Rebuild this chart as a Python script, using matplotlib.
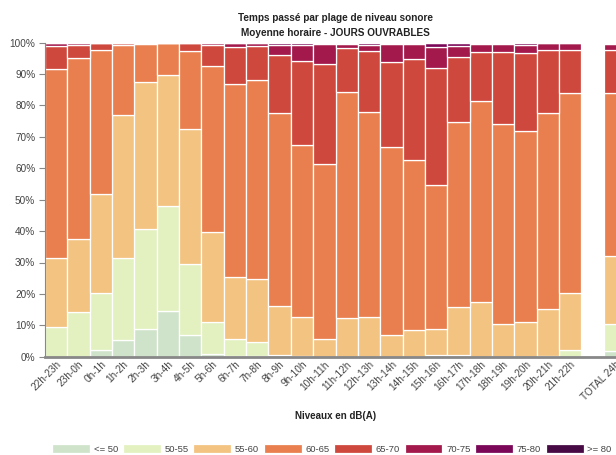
import numpy as np
import matplotlib
matplotlib.use("Agg")
import matplotlib.pyplot as plt
import matplotlib.transforms as mtransforms

plt.rcParams['font.family'] = ['Liberation Sans', 'DejaVu Sans']

categories = ["22h-23h", "23h-0h", "0h-1h", "1h-2h", "2h-3h", "3h-4h", "4h-5h", "5h-6h",
              "6h-7h", "7h-8h", "8h-9h", "9h-10h", "10h-11h", "11h-12h", "12h-13h", "13h-14h",
              "14h-15h", "15h-16h", "16h-17h", "17h-18h", "18h-19h", "19h-20h", "20h-21h",
              "21h-22h", "", "TOTAL 24h"]

levels = ["<= 50", "50-55", "55-60", "60-65", "65-70", "70-75", "75-80", ">= 80"]
colors = ["#cfe3cb", "#e3f1c1", "#f3c381", "#e97f4e", "#cf483d", "#a3194b", "#7a0757", "#470a45"]

le50 = [0, 0, 2.0, 5.3, 8.9, 14.6, 7.0, 1.0, 0.3, 0.2, 0, 0, 0, 0, 0, 0,
        0, 0, 0, 0, 0, 0, 0, 0, 0, 1.8]
l50_55 = [9.3, 14.3, 18.2, 26.2, 31.8, 33.5, 22.5, 10.0, 5.4, 4.5, 0.5, 0.1, 0, 0, 0, 0,
          0, 0.5, 0.6, 0, 0, 0, 0.3, 2.1, 0, 8.5]
l55_60 = [22.2, 23.1, 31.5, 45.6, 46.9, 41.7, 43.0, 28.6, 19.8, 20.2, 15.5, 12.4, 5.5, 12.3, 12.6, 6.9,
          8.6, 8.3, 15.1, 17.5, 10.4, 11.1, 14.8, 18.1, 0, 21.9]
l60_65 = [60.2, 57.7, 45.9, 22.1, 11.9, 10.0, 24.8, 53.0, 61.2, 63.1, 61.7, 55.0, 56.0, 71.9, 65.4, 59.9,
          54.0, 45.8, 59.2, 63.8, 63.7, 60.7, 62.5, 63.8, 0, 51.7]
l65_70 = [7.3, 4.3, 2.2, 0.7, 0.4, 0.2, 2.5, 6.8, 12.0, 10.8, 18.3, 26.8, 31.7, 14.1, 19.3, 27.2,
          32.1, 37.3, 20.4, 15.7, 22.8, 25.0, 20.0, 13.7, 0, 13.8]
l70_75 = [0.8, 0.5, 0.2, 0.1, 0.1, 0, 0.2, 0.5, 1.1, 1.0, 3.3, 5.0, 6.3, 1.4, 2.1, 5.5,
          4.9, 6.6, 3.8, 2.7, 2.6, 2.6, 2.2, 2.1, 0, 2.0]
l75_80 = [0.2, 0.1, 0, 0, 0, 0, 0, 0.1, 0.2, 0.2, 0.7, 0.7, 0.5, 0.3, 0.6, 0.5,
          0.4, 1.5, 0.9, 0.3, 0.5, 0.6, 0.2, 0.2, 0, 0.3]
ge80 = [0] * 26

series = [le50, l50_55, l55_60, l60_65, l65_70, l70_75, l75_80, ge80]

fig = plt.figure(figsize=(6.16, 4.55), dpi=100)
ax = fig.add_axes([45 / 616, 1 - 356.7 / 455, 581 / 616, 314 / 455])

x = np.arange(len(categories))
bottom = np.zeros(len(categories))
for name, vals, col in zip(levels, series, colors):
    vals = np.array(vals, dtype=float)
    ax.bar(x, vals, width=1.0, bottom=bottom, color=col, edgecolor="white",
           linewidth=0.9, label=name)
    bottom += vals

ax.set_xlim(-0.5, len(categories) - 0.5)
ax.set_ylim(0, 100)
ax.set_yticks(np.arange(0, 101, 10))
ax.set_yticklabels([f"{v}%" for v in range(0, 101, 10)], fontsize=7.2, color="#444444")
ax.set_xticks(x)
ax.set_xticklabels(categories, rotation=45, ha="right", rotation_mode="anchor",
                   fontsize=7.2, color="#444444")
offset = mtransforms.ScaledTranslation(5 / 100, -5 / 100, fig.dpi_scale_trans)
for lbl in ax.get_xticklabels():
    lbl.set_transform(lbl.get_transform() + offset)

ax.tick_params(axis="x", length=0, pad=2)
ax.tick_params(axis="y", length=4, width=0.8, color="#888888", pad=3)
for side in ["top", "right"]:
    ax.spines[side].set_visible(False)
ax.spines["left"].set_color("#888888")
ax.spines["left"].set_linewidth(0.8)
ax.spines["bottom"].set_color("#888888")
ax.spines["bottom"].set_linewidth(2)

ax.text(0.5, 1 + (42.7 - 18) / 314, "Temps passé par plage de niveau sonore",
        transform=ax.transAxes, ha="center", va="center", fontsize=7.2,
        fontweight="bold", color="#222222")
ax.text(0.5, 1 + (42.7 - 33) / 314, "Moyenne horaire - JOURS OUVRABLES",
        transform=ax.transAxes, ha="center", va="center", fontsize=7.2,
        fontweight="bold", color="#222222")

ax.text(0.5, -(416 - 356.7) / 314, "Niveaux en dB(A)", transform=ax.transAxes,
        ha="center", va="center", fontsize=7.0, fontweight="bold", color="#222222")
leg = ax.legend(loc="center", bbox_to_anchor=(0.494, -(449 - 356.7) / 314), ncol=8,
                frameon=False, fontsize=6.8, handlelength=4.0, handleheight=1.1,
                handletextpad=0.4, columnspacing=0.5, borderpad=0)
for t in leg.get_texts():
    t.set_color("#444444")

fig.savefig("out.png", dpi=100)
